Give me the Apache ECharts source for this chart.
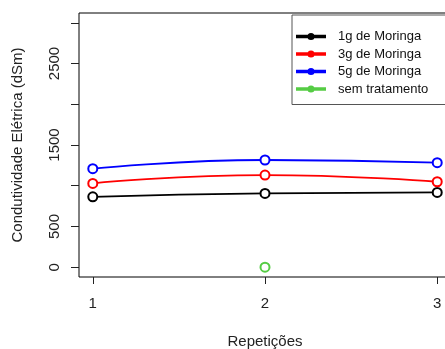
<!DOCTYPE html>
<html>
<head>
<meta charset="utf-8">
<script src="https://cdn.jsdelivr.net/npm/echarts@6/dist/echarts.min.js"></script>
<style>
  html, body { margin: 0; padding: 0; background: #fff; }
  #chart { width: 445px; height: 349px; }
</style>
</head>
<body>
<div id="chart"></div>
<script>
var reps = [1, 2, 3];
var moringa1g = [864, 906, 918];
var moringa3g = [1029, 1131, 1049];
var moringa5g = [1209, 1316, 1283];
var semTratamento = [[2, 0]];
var yTicks = [0, 500, 1000, 1500, 2000, 2500, 3000];
var yLabels = [0, 500, 1500, 2500];

function pairs(vals) {
    return vals.map(function(v, i) { return [reps[i], v]; });
}

var font = 'Liberation Sans, Arial, sans-serif';
// line with a small dot, like the R legend
var legendIcon = 'path://M0,2.2H28V3.8H0Z M16.6,3A2.6,2.6,0,1,1,11.4,3A2.6,2.6,0,1,1,16.6,3Z';

function lineSeries(name, color, vals) {
    return {
        name: name,
        type: 'line',
        data: pairs(vals),
        smooth: true,
        symbol: 'emptyCircle',
        symbolSize: 9,
        color: color,
        lineStyle: { color: color, width: 1.8 },
        itemStyle: { color: color, borderColor: color, borderWidth: 1.6 }
    };
}

var myChart = echarts.init(document.getElementById('chart'));
myChart.setOption({
    animation: false,
    grid: {
        left: 79, top: 13, width: 372, height: 264,
        outerBoundsMode: 'none',
        containLabel: false,
        show: true, borderColor: '#000', borderWidth: 1, backgroundColor: 'transparent'
    },
    legend: {
        orient: 'vertical',
        left: 292, top: 15,
        padding: [15, 30, 9, 4],
        icon: legendIcon,
        itemWidth: 28, itemHeight: 5.2, itemGap: 4.5,
        borderColor: '#555', borderWidth: 1,
        textStyle: { fontFamily: font, fontSize: 13, color: '#111', padding: [0, 0, 0, 8] },
        data: ['1g de Moringa', '3g de Moringa', '5g de Moringa', 'sem tratamento']
    },
    xAxis: {
        type: 'value',
        min: 0.92, max: 3.08,
        name: 'Repetições',
        nameLocation: 'middle',
        nameGap: 57,
        nameTextStyle: { fontFamily: font, fontSize: 15, color: '#222' },
        axisLine: { show: false, onZero: false },
        splitLine: { show: false },
        axisTick: { show: true, length: 7, customValues: reps, lineStyle: { color: '#222' } },
        axisLabel: { customValues: reps, margin: 19, fontFamily: font, fontSize: 15, color: '#222' }
    },
    yAxis: {
        type: 'value',
        min: -120, max: 3120,
        name: 'Condutividade Elétrica (dSm)',
        nameLocation: 'middle',
        nameRotate: 90,
        nameGap: 54,
        nameTextStyle: { fontFamily: font, fontSize: 15, color: '#222' },
        axisLine: { show: false, onZero: false },
        splitLine: { show: false },
        axisTick: { show: true, length: 8, customValues: yTicks, lineStyle: { color: '#222' } },
        axisLabel: {
            customValues: yLabels, rotate: 90, margin: 17,
            fontFamily: font, fontSize: 15, color: '#222',
            formatter: function(v) { return String(v); }
        }
    },
    series: [
        lineSeries('1g de Moringa', '#000000', moringa1g),
        lineSeries('3g de Moringa', '#ff0000', moringa3g),
        lineSeries('5g de Moringa', '#0000ff', moringa5g),
        {
            name: 'sem tratamento',
            type: 'line',
            data: semTratamento,
            symbol: 'emptyCircle',
            symbolSize: 9,
            color: '#55cc44',
            lineStyle: { color: '#55cc44', width: 1.8 },
            itemStyle: { color: '#55cc44', borderColor: '#55cc44', borderWidth: 1.6 }
        }
    ]
});
</script>
</body>
</html>
